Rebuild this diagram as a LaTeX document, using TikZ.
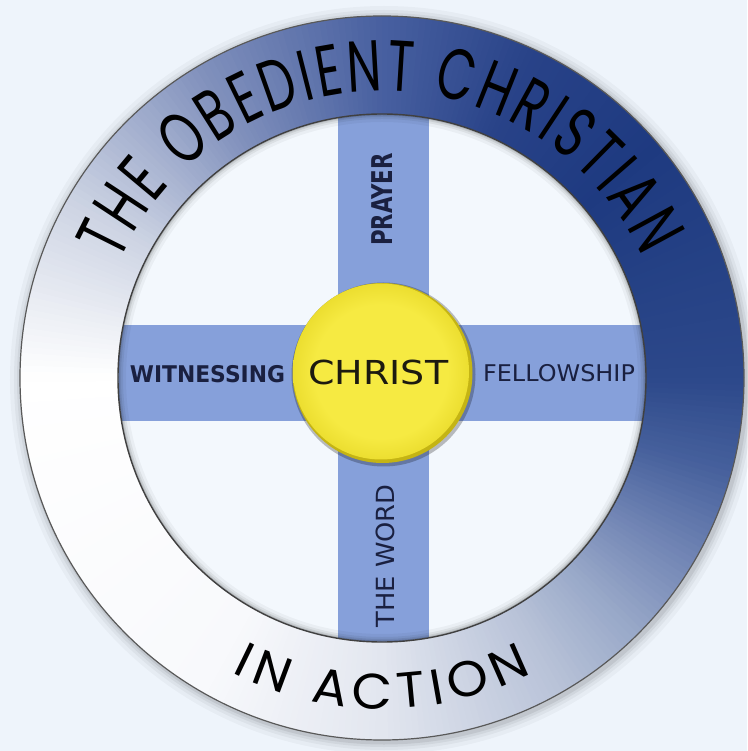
\documentclass[tikz,border=0pt]{standalone}
\usepackage{fontspec}
\usepackage{graphicx}
\setmainfont{DejaVu Sans}
\newfontfamily\labfont{DejaVu Sans}
\newfontfamily\ringtop{Poppins}[FakeStretch=0.68]
\newfontfamily\ringbot{Poppins}[FakeStretch=1.05]
\usetikzlibrary{decorations.text}
\definecolor{bgc}{RGB}{238,244,251}
\definecolor{innerc}{RGB}{243,248,253}
\definecolor{crossc}{RGB}{134,160,218}
\definecolor{labc}{RGB}{26,32,64}
\definecolor{christc}{RGB}{28,26,16}
\definecolor{yelL}{RGB}{246,234,66}
\definecolor{yelM}{RGB}{236,222,48}
\definecolor{yelD}{RGB}{196,180,20}
% ring colour stops by angle
\definecolor{s0}{RGB}{255,255,255}
\definecolor{s1}{RGB}{248,249,252}
\definecolor{s2}{RGB}{226,230,239}
\definecolor{s3}{RGB}{184,194,216}
\definecolor{s4}{RGB}{152,168,200}
\definecolor{s5}{RGB}{112,132,180}
\definecolor{s6}{RGB}{70,96,156}
\definecolor{s7}{RGB}{44,72,138}
\definecolor{s8}{RGB}{30,58,128}
\definecolor{s9}{RGB}{40,66,136}
\definecolor{s10}{RGB}{72,96,160}
\definecolor{s11}{RGB}{128,144,188}
\definecolor{s12}{RGB}{204,211,227}
\definecolor{s13}{RGB}{255,255,255}
\pgfdeclareradialshading{ballshade}{\pgfpoint{0bp}{0bp}}{color(0bp)=(yelL); color(19bp)=(yelL); color(25bp)=(yelM); color(50bp)=(yelM)}
\tikzset{
  lab/.style={inner sep=0pt, text=labc},
  ringtext/.style={decorate},
}
\begin{document}
\begin{tikzpicture}[x=1pt,y=1pt]
\useasboundingbox (-382,-373) rectangle (365,378);
\fill[bgc] (-382,-373) rectangle (365,378);
% soft outer shadow of the ring
\foreach \i/\o in {12/0.03,8/0.04,5/0.05,2.5/0.07}
  \fill[black,opacity=\o] (2,-2) circle (362+\i);
% inner field
\fill[innerc] (0,0) circle (264);
\begin{scope}
  \clip (0,0) circle (264);
  \fill[crossc] (-44,-300) rectangle (47,300);
  \fill[crossc] (-300,-43) rectangle (300,53);
  \foreach \w/\o in {16/0.04,10/0.06,6/0.08,3/0.12}
    \draw[black,opacity=\o,line width=\w] (0,0) circle (264);
\end{scope}
% ring with angular colour gradient
\foreach \a/\b/\ca/\cb in {-180/-120/s0/s1,-120/-90/s1/s2,-90/-60/s2/s3,-60/-45/s3/s4,-45/-30/s4/s5,-30/-15/s5/s6,-15/0/s6/s7,0/40/s7/s8,40/65/s8/s9,65/90/s9/s10,90/120/s10/s11,120/150/s11/s12,150/180/s12/s13}{
  \pgfmathtruncatemacro\n{\b-(\a)-1}
  \foreach \k in {0,...,\n}{
    \pgfmathsetmacro\t{\a+\k}
    \pgfmathsetmacro\te{\t+1.6}
    \pgfmathtruncatemacro\p{100*(\k+0.5)/(\b-(\a))}
    \fill[\cb!\p!\ca] (\t:264) arc[start angle=\t, end angle=\te, radius=264] -- (\te:362) arc[start angle=\te, end angle=\t, radius=362] -- cycle;
  }
}
\draw[black!65, line width=1.2] (0,0) circle (362);
\draw[black!75, line width=1.4] (0,0) circle (264);
% ring texts
\path[ringtext, decoration={text along path, text={|\ringtop\fontsize{72}{72}\selectfont|THE OBEDIENT CHRISTIAN}, text align={fit to path}}]
  (156:287) arc[start angle=156, end angle=25, radius=287];
\path[ringtext, decoration={text along path, text={|\ringbot\fontsize{50}{50}\selectfont|IN ACTION}, text align={fit to path}}]
  (243:331) arc[start angle=243, end angle=297, radius=331];
% centre disc
\fill[black,opacity=0.25] (1.5,3.5) circle (92);
\fill[yelD] (0.5,5) circle (90);
\shade[shading=ballshade] (-1,6.5) circle (88);
% labels
\node[lab, font=\labfont\bfseries\fontsize{23}{23}\selectfont] (wit) at (-174.5,4) {\scalebox{0.95}[1]{WITNESSING}};
\node[lab, font=\labfont\fontsize{23}{23}\selectfont] (fel) at (177,5) {\scalebox{1.04}[1]{FELLOWSHIP}};
\node[lab, rotate=90, font=\labfont\bfseries\fontsize{26}{26}\selectfont] (pra) at (0.5,178.5) {\scalebox{0.82}[1.1]{PRAYER}};
\node[lab, rotate=90, font=\labfont\fontsize{25}{25}\selectfont] (wor) at (3,-178) {\scalebox{1.03}[1]{THE WORD}};
\node[inner sep=0pt, text=christc, font=\labfont\fontsize{33}{33}\selectfont] (chr) at (-3.7,6) {\scalebox{1.15}[1]{CHRIST}};
\end{tikzpicture}
\end{document}
